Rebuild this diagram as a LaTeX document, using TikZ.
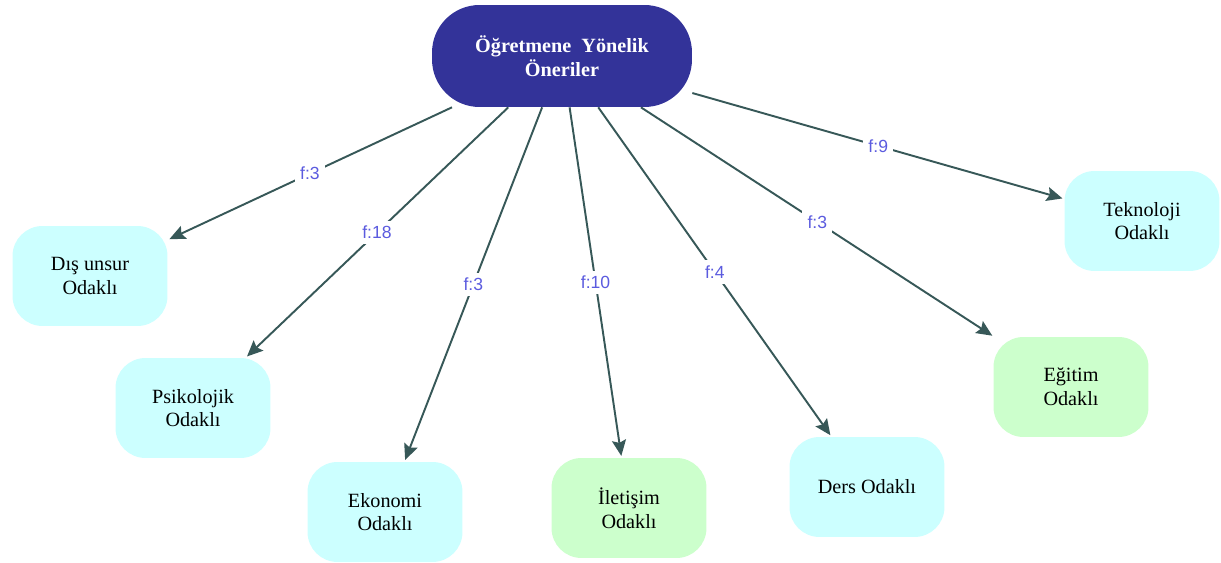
\documentclass[tikz,border=0pt]{standalone}
\usepackage{fontspec}
\setmainfont{Liberation Serif}
\setsansfont{Liberation Sans}
\usetikzlibrary{arrows.meta}
\definecolor{koyumavi}{HTML}{333399}
\definecolor{acikcamgobegi}{HTML}{CCFFFF}
\definecolor{acikyesil}{HTML}{CCFFCC}
\definecolor{okrengi}{HTML}{375858}
\definecolor{etiketrengi}{HTML}{5B5BDF}

\begin{document}
\begin{tikzpicture}[x=0.02cm,y=-0.02cm,
    anadugum/.style={draw=none,fill=koyumavi,text=white,font=\fontsize{11.5}{13.5}\selectfont\bfseries,
      minimum width=5.2cm,minimum height=2.04cm,rounded corners=0.95cm,align=center},
    kutu/.style={draw=none,fill=acikcamgobegi,font=\fontsize{11.5}{13.5}\selectfont,
      minimum width=3.1cm,minimum height=2cm,rounded corners=0.6cm,align=center},
    yesilkutu/.style={kutu,fill=acikyesil},
    ok/.style={draw=okrengi,line width=1.1pt,-{Stealth[length=9pt,width=8pt,inset=1.5pt]},shorten >=1pt},
    etiket/.style={midway,fill=white,text=etiketrengi,font=\sffamily\fontsize{10}{11}\selectfont,inner sep=3pt}]
  \useasboundingbox (0,0) rectangle (1221,563);
  % ana dugum
  \node[anadugum] (oneriler) at (562,56) {Öğretmene\ \ Yönelik\\Öneriler};
  % alt dugumler
  \node[kutu] (dis) at (90,276) {Dış unsur\\Odaklı};
  \node[kutu] (psikolojik) at (193,408) {Psikolojik\\Odaklı};
  \node[kutu] (ekonomi) at (385,512) {Ekonomi\\Odaklı};
  \node[yesilkutu] (iletisim) at (629,508) {İletişim\\Odaklı};
  \node[kutu] (ders) at (867,487) {Ders Odaklı};
  \node[yesilkutu] (egitim) at (1071,387) {Eğitim\\Odaklı};
  \node[kutu] (teknoloji) at (1142,221) {Teknoloji\\Odaklı};
  % oklar
  \draw[ok] (oneriler) -- (dis) node[etiket] {f:3};
  \draw[ok] (oneriler) -- (psikolojik) node[etiket] {f:18};
  \draw[ok] (oneriler) -- (ekonomi) node[etiket] {f:3};
  \draw[ok] (oneriler) -- (iletisim) node[etiket] {f:10};
  \draw[ok] (oneriler) -- (ders) node[etiket] {f:4};
  \draw[ok] (oneriler) -- (egitim) node[etiket] {f:3};
  \draw[ok] (oneriler) -- (teknoloji) node[etiket] {f:9};
\end{tikzpicture}
\end{document}
